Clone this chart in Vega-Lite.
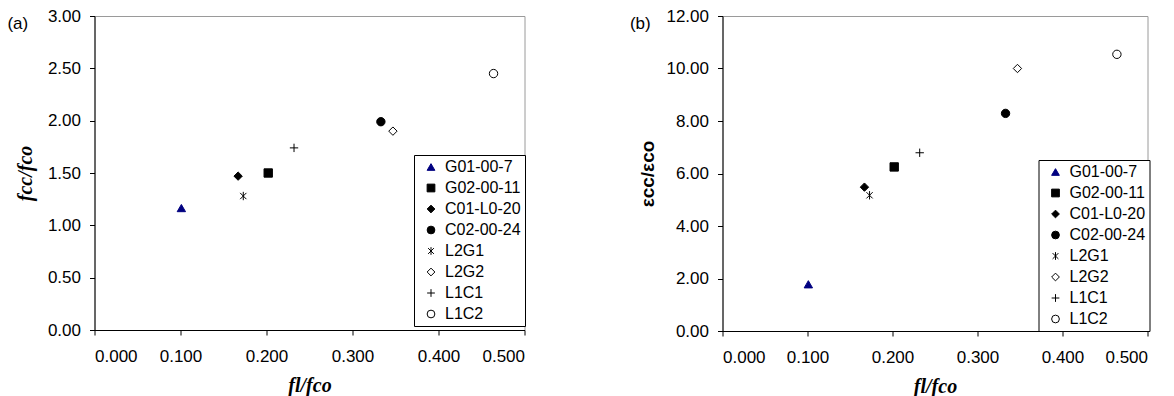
{
  "$schema": "https://vega.github.io/schema/vega-lite/v6.json",
  "padding": {"left": 6.5, "top": 6, "right": 0, "bottom": 0},
  "background": "white",
  "config": {
    "view": {"stroke": "#9a9a9a", "strokeWidth": 1},
    "font": "Liberation Sans",
    "axis": {"domainColor": "black", "tickColor": "black", "tickSize": 5, "labelFont": "Liberation Sans", "labelFontSize": 17, "labelColor": "black", "grid": false, "titleColor": "black"},
    "axisX": {"labelPadding": 13, "titlePadding": 11, "titleFont": "Liberation Serif", "titleFontStyle": "italic", "titleFontWeight": "bold", "titleFontSize": 20},
    "axisY": {"labelPadding": 9},
    "legend": {"orient": "none", "padding": 4, "strokeColor": "black", "fillColor": "white", "labelFontSize": 16, "labelFont": "Liberation Sans", "labelColor": "black", "symbolSize": 60, "symbolStrokeWidth": 1, "rowPadding": 5, "symbolOffset": 5, "labelOffset": 6, "labelLimit": 300, "cornerRadius": 0},
    "title": {"anchor": "start", "frame": "bounds", "offset": -26, "fontSize": 17, "fontWeight": "normal", "font": "Liberation Sans", "color": "black"}
  },
  "datasets": {
    "pts": [
      {"series": "G01-00-7", "fl": 0.101, "fcc": 1.165, "ecc": 1.78},
      {"series": "G02-00-11", "fl": 0.202, "fcc": 1.50, "ecc": 6.25},
      {"series": "C01-L0-20", "fl": 0.167, "fcc": 1.47, "ecc": 5.48},
      {"series": "C02-00-24", "fl": 0.333, "fcc": 1.99, "ecc": 8.29},
      {"series": "L2G1", "fl": 0.173, "fcc": 1.28, "ecc": 5.17},
      {"series": "L2G2", "fl": 0.347, "fcc": 1.90, "ecc": 10.0},
      {"series": "L1C1", "fl": 0.232, "fcc": 1.74, "ecc": 6.79},
      {"series": "L1C2", "fl": 0.464, "fcc": 2.45, "ecc": 10.54}
    ]
  },
  "spacing": 102,
  "resolve": {"scale": {"shape": "independent", "fill": "independent", "stroke": "independent"}, "legend": {"shape": "independent", "fill": "independent", "stroke": "independent"}},
  "hconcat": [
    {
      "width": 430,
      "height": 314,
      "title": {"text": "(a)", "dx": -8},
      "data": {"name": "pts"},
      "mark": {"type": "point", "size": 70, "strokeWidth": 1, "opacity": 1},
      "encoding": {
        "x": {"field": "fl", "type": "quantitative", "scale": {"domain": [0, 0.5], "nice": false}, "axis": {"values": [0, 0.1, 0.2, 0.3, 0.4, 0.5], "format": ".3f", "title": "fl/fco"}},
        "y": {"field": "fcc", "type": "quantitative", "scale": {"domain": [0, 3], "nice": false}, "axis": {"values": [0, 0.5, 1, 1.5, 2, 2.5, 3], "format": ".2f", "title": "fcc/fco", "titleFont": "Liberation Serif", "titleFontStyle": "italic", "titleFontWeight": "bold", "titleFontSize": 20, "titlePadding": 12}},
        "shape": {"field": "series", "type": "nominal", "scale": {"domain": ["G01-00-7", "G02-00-11", "C01-L0-20", "C02-00-24", "L2G1", "L2G2", "L1C1", "L1C2"], "range": ["triangle-up", "square", "diamond", "circle", "M-0.75,-0.75L0.75,0.75M-0.75,0.75L0.75,-0.75M0,-1L0,1", "diamond", "M-1,0L1,0M0,-1L0,1", "circle"]}, "legend": {"title": null, "legendX": 319.5, "legendY": 139}},
        "fill": {"field": "series", "type": "nominal", "scale": {"domain": ["G01-00-7", "G02-00-11", "C01-L0-20", "C02-00-24", "L2G1", "L2G2", "L1C1", "L1C2"], "range": ["#000080", "black", "black", "black", "transparent", "white", "transparent", "white"]}, "legend": {"title": null, "legendX": 319.5, "legendY": 139}},
        "stroke": {"field": "series", "type": "nominal", "scale": {"domain": ["G01-00-7", "G02-00-11", "C01-L0-20", "C02-00-24", "L2G1", "L2G2", "L1C1", "L1C2"], "range": ["#000080", "black", "black", "black", "black", "black", "black", "black"]}, "legend": {"title": null, "legendX": 319.5, "legendY": 139}}
      }
    },
    {
      "width": 425,
      "height": 315,
      "title": {"text": "(b)", "dx": -9},
      "data": {"name": "pts"},
      "mark": {"type": "point", "size": 70, "strokeWidth": 1, "opacity": 1},
      "encoding": {
        "x": {"field": "fl", "type": "quantitative", "scale": {"domain": [0, 0.5], "nice": false}, "axis": {"values": [0, 0.1, 0.2, 0.3, 0.4, 0.5], "format": ".3f", "title": "fl/fco"}},
        "y": {"field": "ecc", "type": "quantitative", "scale": {"domain": [0, 12], "nice": false}, "axis": {"values": [0, 2, 4, 6, 8, 10, 12], "format": ".2f", "title": "εcc/εco", "titleFont": "Liberation Sans", "titleFontWeight": "bold", "titleFontSize": 19, "titlePadding": 8}},
        "shape": {"field": "series", "type": "nominal", "scale": {"domain": ["G01-00-7", "G02-00-11", "C01-L0-20", "C02-00-24", "L2G1", "L2G2", "L1C1", "L1C2"], "range": ["triangle-up", "square", "diamond", "circle", "M-0.75,-0.75L0.75,0.75M-0.75,0.75L0.75,-0.75M0,-1L0,1", "diamond", "M-1,0L1,0M0,-1L0,1", "circle"]}, "legend": {"title": null, "legendX": 316, "legendY": 144}},
        "fill": {"field": "series", "type": "nominal", "scale": {"domain": ["G01-00-7", "G02-00-11", "C01-L0-20", "C02-00-24", "L2G1", "L2G2", "L1C1", "L1C2"], "range": ["#000080", "black", "black", "black", "transparent", "white", "transparent", "white"]}, "legend": {"title": null, "legendX": 316, "legendY": 144}},
        "stroke": {"field": "series", "type": "nominal", "scale": {"domain": ["G01-00-7", "G02-00-11", "C01-L0-20", "C02-00-24", "L2G1", "L2G2", "L1C1", "L1C2"], "range": ["#000080", "black", "black", "black", "black", "black", "black", "black"]}, "legend": {"title": null, "legendX": 316, "legendY": 144}}
      }
    }
  ]
}
